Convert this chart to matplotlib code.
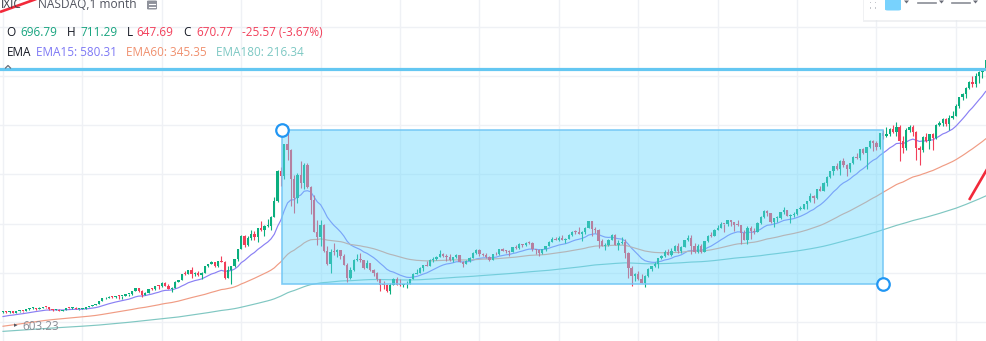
import matplotlib
matplotlib.use("Agg")
import matplotlib.pyplot as plt
from matplotlib.patches import Rectangle, FancyBboxPatch, Polygon
import numpy as np

# NASDAQ Composite (IXIC), monthly candles Jan 1993 - Oct 2017
opens = [
    677, 696.79, 671, 690, 661, 700, 705, 705, 743, 763, 779, 754,
    777, 800, 793, 744, 734, 735, 706, 722, 766, 764, 778, 750,
    752, 755, 794, 817, 844, 865, 934, 1001, 1020, 1044, 1036, 1059,
    1052, 1060, 1100, 1101, 1191, 1243, 1185, 1081, 1142, 1227, 1222, 1293,
    1291, 1380, 1309, 1222, 1261, 1400, 1442, 1594, 1587, 1686, 1594, 1601,
    1570, 1619, 1771, 1836, 1868, 1779, 1895, 1872, 1499, 1694, 1771, 1950,
    2193, 2506, 2288, 2461, 2543, 2471, 2686, 2639, 2739, 2746, 2966, 3336,
    4069, 3940, 4697, 4573, 3861, 3401, 3966, 3767, 4206, 3673, 3370, 2598,
    2471, 2773, 2152, 1840, 2116, 2110, 2161, 2027, 1805, 1499, 1690, 1931,
    1950, 1934, 1731, 1845, 1688, 1616, 1463, 1328, 1315, 1172, 1330, 1479,
    1336, 1321, 1338, 1341, 1464, 1596, 1623, 1735, 1810, 1787, 1932, 1960,
    2003, 2066, 2030, 1994, 1920, 1987, 2048, 1887, 1838, 1897, 1975, 2097,
    2175, 2062, 2052, 1999, 1922, 2068, 2057, 2185, 2152, 2152, 2120, 2233,
    2205, 2306, 2281, 2340, 2323, 2179, 2172, 2092, 2184, 2258, 2367, 2432,
    2415, 2464, 2416, 2422, 2525, 2605, 2603, 2546, 2596, 2702, 2859, 2661,
    2652, 2390, 2272, 2279, 2413, 2523, 2293, 2326, 2368, 2092, 1721, 1536,
    1577, 1476, 1378, 1529, 1717, 1774, 1835, 1979, 2009, 2122, 2045, 2145,
    2269, 2147, 2238, 2398, 2461, 2257, 2109, 2255, 2114, 2369, 2507, 2498,
    2653, 2700, 2782, 2781, 2874, 2835, 2774, 2756, 2580, 2415, 2684, 2620,
    2605, 2814, 2967, 3092, 3046, 2827, 2935, 2940, 3067, 3116, 2977, 3010,
    3020, 3142, 3160, 3268, 3329, 3456, 3403, 3626, 3590, 3772, 3920, 4060,
    4177, 4104, 4308, 4199, 4115, 4243, 4408, 4370, 4580, 4493, 4631, 4792,
    4736, 4635, 4964, 4901, 4941, 5070, 4987, 5128, 4777, 4620, 5054, 5109,
    5007, 4614, 4558, 4870, 4775, 4948, 4843, 5162, 5213, 5312, 5189, 5324,
    5383, 5615, 5825, 5912, 6048, 6199, 6140, 6348, 6429, 6496,
]
highs = [
    705, 711.29, 699, 692, 703, 709, 712, 743, 764, 787, 783, 787,
    802, 805, 804, 755, 742, 746, 726, 766, 775, 785, 790, 754,
    767, 794, 818, 845, 865, 934, 1005, 1027, 1067, 1064, 1070, 1078,
    1066, 1117, 1112, 1191, 1250, 1249, 1195, 1145, 1234, 1257, 1300, 1316,
    1393, 1392, 1344, 1270, 1410, 1455, 1595, 1660, 1690, 1745, 1630, 1660,
    1627, 1772, 1840, 1911, 1880, 1895, 2028, 1900, 1790, 1775, 1951, 2200,
    2533, 2530, 2500, 2652, 2618, 2700, 2865, 2763, 2910, 2970, 3430, 4090,
    4150, 4697, 5132, 4580, 3966, 4013, 4289, 4259, 4260, 3705, 3480, 2890,
    2892, 2790, 2250, 2188, 2340, 2200, 2165, 2070, 1850, 1765, 1943, 2065,
    2098, 1935, 1930, 1850, 1720, 1640, 1470, 1426, 1345, 1372, 1490, 1522,
    1470, 1360, 1425, 1470, 1603, 1700, 1754, 1812, 1910, 1940, 1988, 2011,
    2154, 2090, 2080, 2080, 2000, 2060, 2050, 1890, 1920, 1990, 2105, 2180,
    2190, 2100, 2085, 2010, 2080, 2110, 2190, 2220, 2170, 2155, 2240, 2280,
    2333, 2310, 2345, 2375, 2355, 2200, 2180, 2195, 2265, 2380, 2470, 2470,
    2510, 2530, 2460, 2560, 2610, 2640, 2725, 2615, 2715, 2862, 2860, 2725,
    2660, 2420, 2340, 2430, 2552, 2550, 2405, 2475, 2420, 2112, 1790, 1620,
    1665, 1600, 1560, 1738, 1790, 1880, 1980, 2040, 2170, 2191, 2215, 2295,
    2326, 2250, 2403, 2536, 2530, 2336, 2310, 2300, 2380, 2520, 2593, 2675,
    2767, 2840, 2800, 2887, 2890, 2840, 2888, 2766, 2650, 2750, 2740, 2700,
    2825, 2980, 3135, 3135, 3060, 2940, 2990, 3080, 3197, 3135, 3020, 3080,
    3150, 3220, 3270, 3340, 3530, 3480, 3630, 3695, 3800, 3950, 4070, 4180,
    4246, 4330, 4372, 4240, 4250, 4410, 4486, 4585, 4610, 4640, 4810, 4814,
    4780, 4966, 5042, 5120, 5100, 5164, 5232, 5175, 4900, 5090, 5175, 5176,
    5010, 4660, 4900, 4970, 4960, 4980, 5180, 5272, 5344, 5343, 5400, 5512,
    5662, 5840, 5928, 6075, 6220, 6342, 6423, 6460, 6500, 6750,
]
lows = [
    645, 647.69, 658, 645, 660, 686, 686, 703, 732, 757, 733, 742,
    773, 775, 735, 691, 713, 700, 699, 719, 758, 753, 740, 728,
    741, 755, 790, 810, 833, 861, 932, 985, 1015, 1002, 1020, 988,
    988, 1057, 1050, 1090, 1180, 1160, 1040, 1075, 1130, 1200, 1210, 1240,
    1280, 1290, 1220, 1160, 1258, 1386, 1440, 1570, 1582, 1495, 1540, 1535,
    1465, 1610, 1750, 1820, 1765, 1750, 1870, 1480, 1490, 1357, 1760, 1900,
    2180, 2240, 2260, 2400, 2400, 2345, 2630, 2490, 2720, 2650, 2966, 3320,
    3712, 3875, 4322, 3227, 3042, 3300, 3650, 3637, 3650, 3026, 2596, 2288,
    2251, 2110, 1794, 1619, 2040, 1990, 1950, 1800, 1387, 1480, 1670, 1905,
    1875, 1700, 1730, 1650, 1540, 1430, 1192, 1240, 1165, 1108, 1320, 1330,
    1311, 1271, 1253, 1337, 1460, 1590, 1620, 1660, 1770, 1785, 1885, 1925,
    2000, 1995, 1897, 1910, 1865, 1970, 1880, 1750, 1830, 1880, 1975, 2080,
    2030, 2030, 1970, 1890, 1915, 2040, 2050, 2130, 2090, 2025, 2115, 2200,
    2190, 2240, 2255, 2310, 2140, 2065, 2012, 2070, 2150, 2250, 2360, 2400,
    2390, 2400, 2331, 2420, 2510, 2560, 2540, 2387, 2540, 2690, 2500, 2580,
    2202, 2260, 2156, 2270, 2400, 2280, 2160, 2310, 1983, 1493, 1295, 1430,
    1450, 1375, 1265, 1510, 1660, 1760, 1725, 1960, 1990, 2040, 2020, 2140,
    2100, 2100, 2235, 2390, 2061, 2100, 2090, 2100, 2110, 2360, 2480, 2490,
    2650, 2690, 2604, 2730, 2750, 2630, 2740, 2300, 2400, 2298, 2440, 2540,
    2600, 2800, 2930, 2980, 2810, 2727, 2840, 2900, 3040, 2970, 2810, 2950,
    3010, 3120, 3140, 3150, 3320, 3295, 3395, 3580, 3580, 3690, 3900, 3970,
    4090, 3970, 4150, 3946, 4030, 4230, 4350, 4330, 4480, 4117, 4620, 4547,
    4563, 4580, 4840, 4870, 4900, 4980, 4900, 4292, 4487, 4560, 4990, 4900,
    4314, 4209, 4520, 4750, 4595, 4575, 4830, 5150, 5130, 5150, 5035, 5310,
    5370, 5580, 5770, 5805, 6030, 6080, 6080, 6177, 6300, 6490,
]
closes = [
    696.34, 670.77, 690, 661, 700, 705, 704, 743, 763, 779, 754, 777,
    800, 793, 744, 734, 735, 706, 722, 766, 764, 778, 750, 752,
    755, 794, 817, 844, 865, 934, 1001, 1020, 1044, 1036, 1059, 1052,
    1060, 1100, 1101, 1191, 1243, 1185, 1081, 1142, 1227, 1222, 1293, 1291,
    1380, 1309, 1222, 1261, 1400, 1442, 1594, 1587, 1686, 1594, 1601, 1570,
    1619, 1771, 1836, 1868, 1779, 1895, 1872, 1499, 1694, 1771, 1950, 2193,
    2506, 2288, 2461, 2543, 2471, 2686, 2639, 2739, 2746, 2966, 3336, 4069,
    3940, 4697, 4573, 3861, 3401, 3966, 3767, 4206, 3673, 3370, 2598, 2471,
    2773, 2152, 1840, 2116, 2110, 2161, 2027, 1805, 1499, 1690, 1931, 1950,
    1934, 1731, 1845, 1688, 1616, 1463, 1328, 1315, 1172, 1330, 1479, 1336,
    1321, 1338, 1341, 1464, 1596, 1623, 1735, 1810, 1787, 1932, 1960, 2003,
    2066, 2030, 1994, 1920, 1987, 2048, 1887, 1838, 1897, 1975, 2097, 2175,
    2062, 2052, 1999, 1922, 2068, 2057, 2185, 2152, 2151, 2120, 2233, 2205,
    2306, 2281, 2340, 2323, 2179, 2172, 2092, 2184, 2258, 2367, 2432, 2415,
    2464, 2416, 2422, 2525, 2605, 2603, 2546, 2596, 2702, 2859, 2661, 2652,
    2390, 2272, 2279, 2413, 2523, 2293, 2326, 2368, 2092, 1721, 1536, 1577,
    1476, 1378, 1529, 1717, 1774, 1835, 1979, 2009, 2122, 2045, 2145, 2269,
    2147, 2238, 2398, 2461, 2257, 2109, 2255, 2114, 2369, 2507, 2498, 2653,
    2700, 2782, 2781, 2874, 2835, 2774, 2756, 2580, 2415, 2684, 2620, 2605,
    2814, 2967, 3092, 3046, 2827, 2935, 2940, 3067, 3116, 2977, 3010, 3020,
    3142, 3160, 3268, 3329, 3456, 3403, 3626, 3590, 3772, 3920, 4060, 4177,
    4104, 4308, 4199, 4115, 4243, 4408, 4370, 4580, 4493, 4631, 4792, 4736,
    4635, 4964, 4901, 4941, 5070, 4987, 5128, 4777, 4620, 5054, 5109, 5007,
    4614, 4558, 4870, 4775, 4948, 4843, 5162, 5213, 5312, 5189, 5324, 5383,
    5615, 5825, 5912, 6048, 6199, 6140, 6348, 6429, 6496, 6728,
]

# EMA readings on the hovered bar (Feb 1993), used to seed the averages
ema_periods = [15, 60, 180]
ema_seed_values = [580.31, 345.35, 216.34]
ema_seed_index = 1

# drawings on the chart (bar index, price)
rect_start = (84.3, 5044)
rect_end = (265.9, 1348)
hline_price = 6520
trend_top = [(-0.91, 7876), (10.9, 8212)]
trend_right = [(292.0, 3364), (300.0, 4456)]
price_levels = [440, 1620, 2800, 3980, 5160, 6340, 7520]
year_bars = list(range(0, 289, 24))

UP = "#0AAE7E"
DOWN = "#F23F5A"
EMA_COLORS = ["#8A80F4", "#F09C84", "#80C7C2"]

W, H = 987, 341
fig = plt.figure(figsize=(W / 100, H / 100), dpi=100)
fig.patch.set_facecolor("white")
ax = fig.add_axes([0, 0, 1, 1])
ax.set_xlim(-0.91, 297.4)
ax.set_ylim(-20, 8164)
ax.axis("off")

for b in year_bars:
    ax.axvline(b, color="#EFF1F5", lw=1.0, zorder=0)
for p in price_levels:
    ax.axhline(p, color="#EFF1F5", lw=1.0, zorder=0)

o = np.array(opens, float)
h = np.array(highs, float)
l = np.array(lows, float)
c = np.array(closes, float)
x = np.arange(len(c))
colors = [UP if cc >= oo else DOWN for oo, cc in zip(o, c)]

# EMA lines
def ema(values, period, idx, seed):
    a = 2.0 / (period + 1)
    out = np.empty(len(values))
    out[idx] = seed
    for i in range(idx + 1, len(values)):
        out[i] = out[i - 1] + a * (values[i] - out[i - 1])
    for i in range(idx - 1, -1, -1):
        out[i] = (out[i + 1] - a * values[i + 1]) / (1 - a)
    return out

for per, seed, col in zip(ema_periods, ema_seed_values, EMA_COLORS):
    ax.plot(x, ema(c, per, ema_seed_index, seed), color=col, lw=0.85, zorder=2)

# candles
ax.vlines(x, l, h, colors=colors, lw=0.8, zorder=3)
body_lo = np.minimum(o, c)
body_h = np.maximum(np.abs(c - o), 22)
ax.bar(x, body_h, bottom=body_lo, width=0.7, color=colors, linewidth=0, zorder=3)

# rectangle drawing
rx0, ry0 = rect_start
rx1, ry1 = rect_end
ax.add_patch(Rectangle((rx0, ry1), rx1 - rx0, ry0 - ry1,
                       facecolor=(101 / 255, 215 / 255, 254 / 255, 0.43),
                       edgecolor=(0.45, 0.78, 0.96, 0.9), lw=1.2, zorder=5))

# horizontal line drawing
ax.axhline(hline_price, color="#64C7F2", lw=2.3, zorder=6)

# trend lines
for seg in (trend_top, trend_right):
    ax.plot([seg[0][0], seg[1][0]], [seg[0][1], seg[1][1]], color="#F2293A",
            lw=1.9, zorder=6, solid_capstyle="butt")

# rectangle handles
ax.plot([rx0, rx1], [ry0, ry1], "o", ms=9.0, mfc="white", mec="#2196F3",
        mew=1.6, zorder=8, ls="none")

# ---------- overlay texts and toolbar, in pixel units ----------
def fx(px):
    return px / W

def fy(py):
    return 1 - py / H

FONT = ["Open Sans", "DejaVu Sans"]

def txt(px, py, s, color, size=8.5, **kw):
    fig.text(fx(px), fy(py), s, color=color, fontsize=size, family=FONT,
             va="center", ha="left", **kw)

DARK = "#131722"
txt(0.5, 5, "IXIC", "#3B3E48", size=8.6)
txt(38, 5, "NASDAQ,1 month", "#50535E", size=8.6)
fig.patches.append(FancyBboxPatch((fx(147), fy(9.5)), 10 / W, 9 / H,
                                  boxstyle="round,pad=0,rounding_size=0.002",
                                  transform=fig.transFigure, facecolor="#8F929B",
                                  edgecolor="none"))
for yy in (3.5, 6.5):
    fig.lines.append(plt.Line2D([fx(149), fx(155)], [fy(yy), fy(yy)],
                                transform=fig.transFigure, color="white", lw=0.8))

row2 = 32.5
txt(6.5, row2, "O", DARK)
txt(20, row2, f"{opens[1]:.2f}", "#17A47F")
txt(66.5, row2, "H", DARK)
txt(80, row2, f"{highs[1]:.2f}", "#17A47F")
txt(126.5, row2, "L", DARK)
txt(136.5, row2, f"{lows[1]:.2f}", DOWN)
txt(183.5, row2, "C", DARK)
txt(196, row2, f"{closes[1]:.2f}", DOWN)
chg = closes[1] - closes[0]
txt(242.5, row2, f"{chg:.2f} ({chg / closes[0] * 100:.2f}%)", DOWN)

row3 = 52.5
txt(6.5, row3, "EMA", DARK)
txt(36, row3, f"EMA15: {ema_seed_values[0]:.2f}", "#7D78F5")
txt(126.5, row3, f"EMA60: {ema_seed_values[1]:.2f}", "#F0906E")
txt(216.5, row3, f"EMA180: {ema_seed_values[2]:.2f}", "#7DC8C3")

# legend collapse chevron
fig.lines.append(plt.Line2D([fx(5.5), fx(8), fx(10.5)], [fy(68), fy(65.5), fy(68)],
                            transform=fig.transFigure, color="#6A6D78", lw=0.9,
                            zorder=12))

txt(14, 326, "▸", "#555862", size=5)
txt(22, 326, "603.23", "#8A8D95", size=8.5)

# floating drawing toolbar
fig.patches.append(Rectangle((fx(863), fy(21.5)), 126 / W, 24 / H,
                             transform=fig.transFigure, facecolor="#E6E8EC",
                             edgecolor="none", alpha=0.6, zorder=9))
fig.patches.append(Rectangle((fx(864), fy(20)), 125 / W, 22 / H,
                             transform=fig.transFigure, facecolor="white",
                             edgecolor="none", zorder=10))
for dx in (870.5, 875.5):
    for dy in (2.5, 8.0):
        fig.patches.append(Rectangle((fx(dx - 0.9), fy(dy + 0.9)), 1.8 / W, 1.8 / H,
                                     transform=fig.transFigure, facecolor="#C5C7CC",
                                     edgecolor="none", zorder=11))
fig.patches.append(FancyBboxPatch((fx(885), fy(10.5)), 16 / W, 14 / H,
                                  boxstyle="round,pad=0,rounding_size=0.003",
                                  transform=fig.transFigure, facecolor="#78D2FD",
                                  edgecolor="none", zorder=11))
for ax_ in (906.5, 941.5, 975.5):
    fig.patches.append(Polygon([(fx(ax_ - 2.5), fy(0.5)), (fx(ax_ + 2.5), fy(0.5)),
                                (fx(ax_), fy(3.5))], closed=True,
                               transform=fig.transFigure, facecolor="#6A6D78",
                               edgecolor="none", zorder=11))
for x0, x1 in ((918, 936), (952, 970)):
    fig.lines.append(plt.Line2D([fx(x0), fx(x1)], [fy(2.7), fy(2.7)],
                                transform=fig.transFigure, color="#8A8D96",
                                lw=1.2, zorder=11))

fig.savefig("out.png", dpi=100, facecolor="white")
